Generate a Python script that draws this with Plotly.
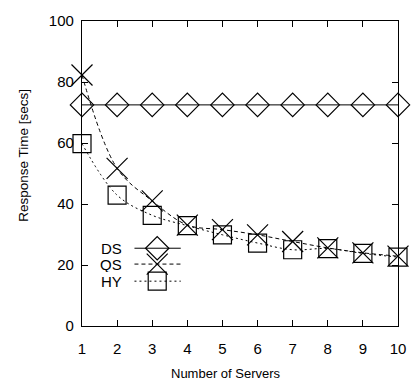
import plotly.graph_objects as go

servers = [1, 2, 3, 4, 5, 6, 7, 8, 9, 10]
ds_time = [72.5, 72.5, 72.5, 72.5, 72.5, 72.5, 72.5, 72.5, 72.5, 72.5]
qs_time = [82.3, 51.7, 41.0, 33.1, 31.6, 29.9, 27.7, 25.6, 24.0, 22.9]
hy_time = [59.8, 42.9, 36.3, 32.9, 29.9, 27.2, 25.0, 25.4, 23.8, 22.6]
y_ticks = [0, 20, 40, 60, 80, 100]

series_names = ["DS", "QS", "HY"]
series_data = [ds_time, qs_time, hy_time]
symbols = ["diamond-open", "x-thin-open", "square-open"]
sizes = [18, 21, 18]
dashes = ["solid", "4px,3px", "2px,3px"]
line_shapes = ["linear", "spline", "spline"]

font = "Liberation Sans, Arial, sans-serif"
fig = go.Figure()

for name, ys, sym, sz, dash, shp in zip(series_names, series_data, symbols, sizes, dashes, line_shapes):
    fig.add_trace(go.Scatter(
        x=servers, y=ys, name=name, mode="lines+markers",
        line=dict(color="black", width=1, dash=dash, shape=shp),
        marker=dict(symbol=sym, size=sz, color="black",
                    line=dict(color="black", width=1.2)),
        showlegend=False, cliponaxis=False,
    ))

# key drawn inside the plot area on a hidden overlay axis
key_y = [0.255, 0.203, 0.147]
for name, ky, sym, sz, dash in zip(series_names, key_y, symbols, sizes, dashes):
    fig.add_trace(go.Scatter(
        x=[0.166, 0.3125], y=[ky, ky], mode="lines",
        line=dict(color="black", width=1, dash=dash),
        xaxis="x2", yaxis="y2", showlegend=False, hoverinfo="skip",
    ))
    fig.add_trace(go.Scatter(
        x=[0.238], y=[ky], mode="markers",
        marker=dict(symbol=sym, size=sz, color="black",
                    line=dict(color="black", width=1.2)),
        xaxis="x2", yaxis="y2", showlegend=False, hoverinfo="skip",
    ))
    fig.add_annotation(x=0.134, y=ky, xref="x2", yref="y2", text=name,
                       showarrow=False, xanchor="right", yanchor="middle",
                       height=15, font=dict(family=font, size=15, color="black"))

fig.add_annotation(x=0.456, y=-0.155, xref="paper", yref="paper",
                   text="Number of Servers", showarrow=False,
                   xanchor="center", yanchor="middle",
                   font=dict(family=font, size=13, color="black"))
fig.add_annotation(x=-0.184, y=0.561, xref="paper", yref="paper",
                   text="Response Time [secs]", showarrow=False, textangle=-90,
                   xanchor="center", yanchor="middle",
                   font=dict(family=font, size=13.5, color="black"))

axis_common = dict(
    showgrid=False, zeroline=False, showline=True, linecolor="black",
    linewidth=1.2, mirror="ticks", ticks="inside", ticklen=6,
    tickcolor="black", tickwidth=1,
    tickfont=dict(family=font, size=15, color="black"),
)

fig.update_layout(
    width=418, height=383,
    margin=dict(l=82, r=16, t=16, b=57),
    paper_bgcolor="white", plot_bgcolor="white",
    xaxis=dict(range=[1, 10], tickvals=servers, ticklabelstandoff=9, **axis_common),
    yaxis=dict(range=[0, 100], tickvals=y_ticks, ticklabelstandoff=4, **axis_common),
    xaxis2=dict(range=[0, 1], overlaying="x", visible=False),
    yaxis2=dict(range=[0, 1], overlaying="y", visible=False),
)

fig.write_html("out.html")
